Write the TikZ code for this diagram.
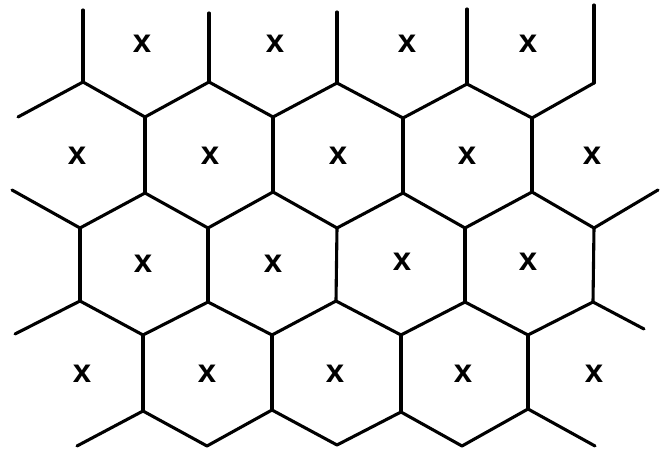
\documentclass[tikz,border=0pt]{standalone}
\usepackage{fontspec}
\setmainfont{Liberation Sans}
\usetikzlibrary{positioning}

\begin{document}
\begin{tikzpicture}[x=1pt,y=-1pt,line cap=round,line join=round,
  edge/.style={line width=3.1pt,black},
  ctr/.style={inner sep=0pt,font=\fontsize{33}{34}\selectfont\bfseries}]
\useasboundingbox (0,0) rectangle (665,454);
% cell borders, top open ends
\draw[edge] (83,10)--(83,82);
\draw[edge] (209,13)--(209,82);
\draw[edge] (337,12)--(337,83);
\draw[edge] (467,9)--(467,84);
\draw[edge] (594,5)--(594,83);
\draw[edge] (18,117)--(83,82)--(145,117)--(209,82)--(273,117)--(337,83)
  --(403,118)--(467,84)--(532,118)--(594,83);
% second band
\draw[edge] (145,117)--(145,193);
\draw[edge] (273,117)--(273,192);
\draw[edge] (403,118)--(403,193);
\draw[edge] (532,118)--(532,192);
\draw[edge] (12,190)--(80,228)--(145,193)--(208,228)--(273,192)--(337,228)
  --(403,193)--(465,228)--(532,192)--(594,228)--(658,190);
% third band
\draw[edge] (80,228)--(80,301);
\draw[edge] (208,228)--(208,302);
\draw[edge] (337,228)--(336,301);
\draw[edge] (465,228)--(465,302);
\draw[edge] (594,228)--(593,302);
\draw[edge] (15,334)--(80,301)--(143,335)--(208,302)--(272,335)--(336,301)
  --(401,335)--(465,302)--(528,335)--(593,302)--(644,329);
% bottom band
\draw[edge] (143,335)--(143,411);
\draw[edge] (272,335)--(272,410);
\draw[edge] (401,335)--(401,412);
\draw[edge] (528,335)--(528,409);
\draw[edge] (77,446)--(143,411)--(207,446)--(272,410)--(337,445)--(401,412)
  --(462,446)--(528,409)--(595,446);
% cell centres
\node[ctr] (c11) at (142,44) {x};
\node[ctr] (c12) at (275,44) {x};
\node[ctr] (c13) at (407,44) {x};
\node[ctr] (c14) at (528,44) {x};
\node[ctr] (c21) at (77,156) {x};
\node[ctr] (c22) at (210,156) {x};
\node[ctr] (c23) at (338,156) {x};
\node[ctr] (c24) at (467,156) {x};
\node[ctr] (c25) at (592,156) {x};
\node[ctr] (c31) at (143,264) {x};
\node[ctr] (c32) at (273,264) {x};
\node[ctr] (c33) at (402,262) {x};
\node[ctr] (c34) at (528,262) {x};
\node[ctr] (c41) at (82,374) {x};
\node[ctr] (c42) at (207,374) {x};
\node[ctr] (c43) at (335,374) {x};
\node[ctr] (c44) at (463,374) {x};
\node[ctr] (c45) at (594,374) {x};
\end{tikzpicture}
\end{document}
